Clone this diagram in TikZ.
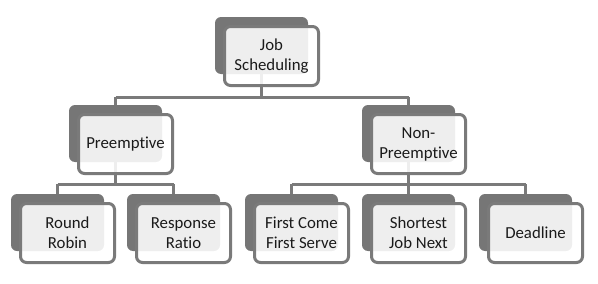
\documentclass[tikz,border=0pt]{standalone}
\usepackage{fontspec}
\setmainfont{Carlito}[Ligatures=NoCommon]
\begin{document}
\begin{tikzpicture}[x=1pt,y=-1pt,
  backbox/.style={rectangle,rounded corners=6pt,fill=backgray,draw=none,minimum width=93pt,minimum height=57pt,inner sep=0pt},
  frontbox/.style={rectangle,rounded corners=6pt,draw=linegray,line width=3pt,fill=white,fill opacity=0.88,text opacity=1,minimum width=94pt,minimum height=59pt,inner sep=0pt,align=center,text=textblack,font=\fontsize{16.8}{20}\selectfont},
  conn/.style={draw=linegray,line width=3pt}]
\definecolor{backgray}{HTML}{767676}
\definecolor{linegray}{HTML}{7A7A7A}
\definecolor{textblack}{HTML}{1A1A1A}
\useasboundingbox (0,0) rectangle (598,284);
\newcommand\jsbox[3]{%
  \node[backbox] (#1b) at (#2+46.5,#3+28.5) {};
  \coordinate (#1c) at (#2+56.5,#3+39);
}
\jsbox{root}{215}{17}
\jsbox{pre}{69}{105}
\jsbox{non}{362}{105}
\jsbox{rr}{11}{194}
\jsbox{resp}{127}{194}
\jsbox{fcfs}{245}{194}
\jsbox{sjn}{362}{194}
\jsbox{dl}{479}{194}
% connectors
\coordinate (busA) at (0,97);
\coordinate (busB) at (0,184);
\draw[conn] (rootb.south) -- (rootb.south |- busA);
\draw[conn] (preb.north |- busA) -- (nonb.north |- busA);
\draw[conn] (preb.north |- busA) -- (preb.north);
\draw[conn] (nonb.north |- busA) -- (nonb.north);
\draw[conn] (preb.south) -- (preb.south |- busB);
\draw[conn] (rrb.north |- busB) -- (respb.north |- busB);
\draw[conn] (rrb.north |- busB) -- (rrb.north);
\draw[conn] (respb.north |- busB) -- (respb.north);
\draw[conn] (nonb.south) -- (nonb.south |- busB);
\draw[conn] (fcfsb.north |- busB) -- (dlb.north |- busB);
\draw[conn] (fcfsb.north |- busB) -- (fcfsb.north);
\draw[conn] (sjnb.north |- busB) -- (sjnb.north);
\draw[conn] (dlb.north |- busB) -- (dlb.north);
% front boxes
\node[frontbox] (root) at (rootc) {Job\\Scheduling};
\node[frontbox] (pre) at (prec) {Preemptive};
\node[frontbox] (non) at (nonc) {Non-\\Preemptive};
\node[frontbox] (rr) at (rrc) {Round\\Robin};
\node[frontbox] (resp) at (respc) {Response\\Ratio};
\node[frontbox] (fcfs) at (fcfsc) {First Come\\First Serve};
\node[frontbox] (sjn) at (sjnc) {Shortest\\Job Next};
\node[frontbox] (dl) at (dlc) {Deadline};
\end{tikzpicture}
\end{document}
